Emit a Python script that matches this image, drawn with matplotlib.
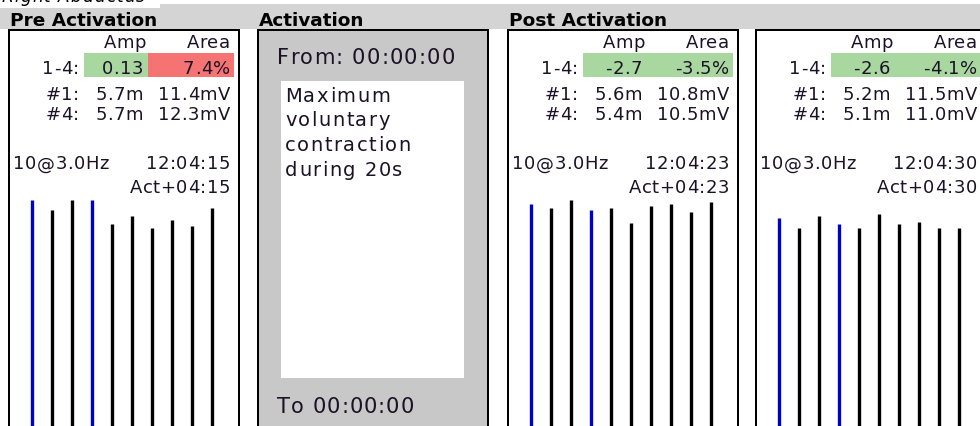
import matplotlib
matplotlib.use('Agg')
import matplotlib.pyplot as plt
from matplotlib.patches import Rectangle
from matplotlib.font_manager import FontProperties, findfont
from matplotlib.ft2font import FT2Font

muscle = 'Right Abductus'
titles = ['Pre Activation', 'Activation', 'Post Activation', '']
stim = '10@3.0Hz'
amp_change = ['0.13', '-2.7', '-2.6']
area_change = [7.4, -3.5, -4.1]
amp_1 = ['5.7m', '5.6m', '5.2m']
area_1 = ['11.4mV', '10.8mV', '11.5mV']
amp_4 = ['5.7m', '5.4m', '5.1m']
area_4 = ['12.3mV', '10.5mV', '11.0mV']
clock = ['12:04:15', '12:04:23', '12:04:30']
since_act = ['Act+04:15', 'Act+04:23', 'Act+04:30']
act_from = '00:00:00'
act_to = '00:00:00'
act_note = ['Maximum', 'voluntary', 'contraction', 'during 20s']
# response amplitude (mV) for each of the 10 stimuli, #1 and #4 in blue
resp = [
    [5.69, 5.41, 5.69, 5.69, 5.01, 5.24, 4.89, 5.12, 4.95, 5.47],
    [5.58, 5.47, 5.69, 5.41, 5.47, 5.02, 5.52, 5.58, 5.35, 5.64],
    [5.18, 4.89, 5.24, 5.01, 4.89, 5.29, 5.01, 5.07, 4.89, 4.89],
]

W, H = 980, 427
TXT = '#1c1226'
lefts = [8, 257, 507, 755]
pw = 230
data_panels = [0, 2, 3]

fig = plt.figure(figsize=(W / 100, H / 100), dpi=100)
ax = fig.add_axes([0, 0, 1, 1])
ax.set_xlim(0, W)
ax.set_ylim(H, 0)
ax.axis('off')

_ft = {}


def advances(s, px, weight, style):
    key = (weight, style)
    if key not in _ft:
        prop = FontProperties(family='DejaVu Sans', weight=weight, style=style)
        _ft[key] = FT2Font(findfont(prop))
    f = _ft[key]
    f.set_size(px, 72)
    out = []
    for c in s:
        g = f.load_char(ord(c))
        try:
            out.append(g.linearHoriAdvance / 65536)
        except AttributeError:
            out.append(g.horiAdvance / 64)
    return out


def stext(x, y, s, px, sp=0.5, ha='left', color=TXT, weight='normal', style='normal'):
    # text with a bit of letter spacing, like the original UI font
    adv = advances(s, px, weight, style)
    total = sum(adv) + sp * (len(s) - 1)
    if ha == 'right':
        x -= total
    elif ha == 'center':
        x -= total / 2
    for c, a in zip(s, adv):
        if c != ' ':
            ax.text(x, y, c, fontsize=px * 0.72, va='baseline', ha='left',
                    color=color, family='DejaVu Sans', weight=weight, style=style)
        x += a + sp


# header strip and the cut-off label above it
ax.add_patch(Rectangle((0, 5), W, 25, fc='#d4d4d4', ec='none'))
ax.add_patch(Rectangle((0, 0), 160, 9, fc='white', ec='none'))
stext(2, 1.5, muscle, 17, sp=1.0, color='black', style='italic')

for p, title in enumerate(titles):
    L = lefts[p]
    if title:
        ax.text(L + 2, 26.5, title, fontsize=18.5 * 0.72, weight='bold',
                family='DejaVu Sans', color='black', va='baseline')
    fc = '#c8c8c8' if p == 1 else 'white'
    ax.add_patch(Rectangle((L + 1, 31), pw, 420, fc=fc, ec='black', lw=1.44))

# activation panel
L = lefts[1]
stext(L + 20, 63.5, 'From: ' + act_from, 21, sp=1.2)
ax.add_patch(Rectangle((L + 24, 82), 183, 297, fc='white', ec='none'))
for i, line in enumerate(act_note):
    stext(L + 28, 101.5 + 25 * i, line, 19.5, sp=1.5)
stext(L + 20, 413, 'To ' + act_to, 21, sp=1.0)

# measurement panels
for j, p in enumerate(data_panels):
    L = lefts[p]
    ax.add_patch(Rectangle((L + 76, 54), 64, 24, fc='#a8d8a0', ec='none'))
    area_fc = '#f57373' if abs(area_change[j]) > 5 else '#a8d8a0'
    ax.add_patch(Rectangle((L + 140, 54), 86, 24, fc=area_fc, ec='none'))
    stext(L + 138, 48.5, 'Amp', 18, ha='right')
    stext(L + 222, 48.5, 'Area', 18, ha='right')
    rows = [('1-4:', amp_change[j], '%.1f%%' % area_change[j], 74),
            ('#1:', amp_1[j], area_1[j], 99.5),
            ('#4:', amp_4[j], area_4[j], 119.5)]
    for lab, a, b, y in rows:
        stext(L + 71, y, lab, 18, ha='right')
        stext(L + 135, y, a, 18, ha='right')
        stext(L + 222, y, b, 18, ha='right')
    stext(L + 5, 169.5, stim, 18)
    stext(L + 222, 169.5, clock[j], 18, ha='right')
    stext(L + 222, 193.5, since_act[j], 18, ha='right')

# stimulus response bars (0 mV at y=400 px, 35 px per mV)
bax = fig.add_axes([0, 0, 1, (H - 195) / H])
bax.set_xlim(0, W)
bax.set_ylim((400 - H) / 35, (400 - 195) / 35)
bax.axis('off')
for j, p in enumerate(data_panels):
    xs = [lefts[p] + 24 + 20 * i for i in range(len(resp[j]))]
    cols = ['#0000cc' if i in (0, 3) else 'black' for i in range(len(resp[j]))]
    bax.vlines(xs, -2, resp[j], colors=cols, lw=2.4, capstyle='butt')

fig.savefig('out.png', dpi=100)
plt.close(fig)
